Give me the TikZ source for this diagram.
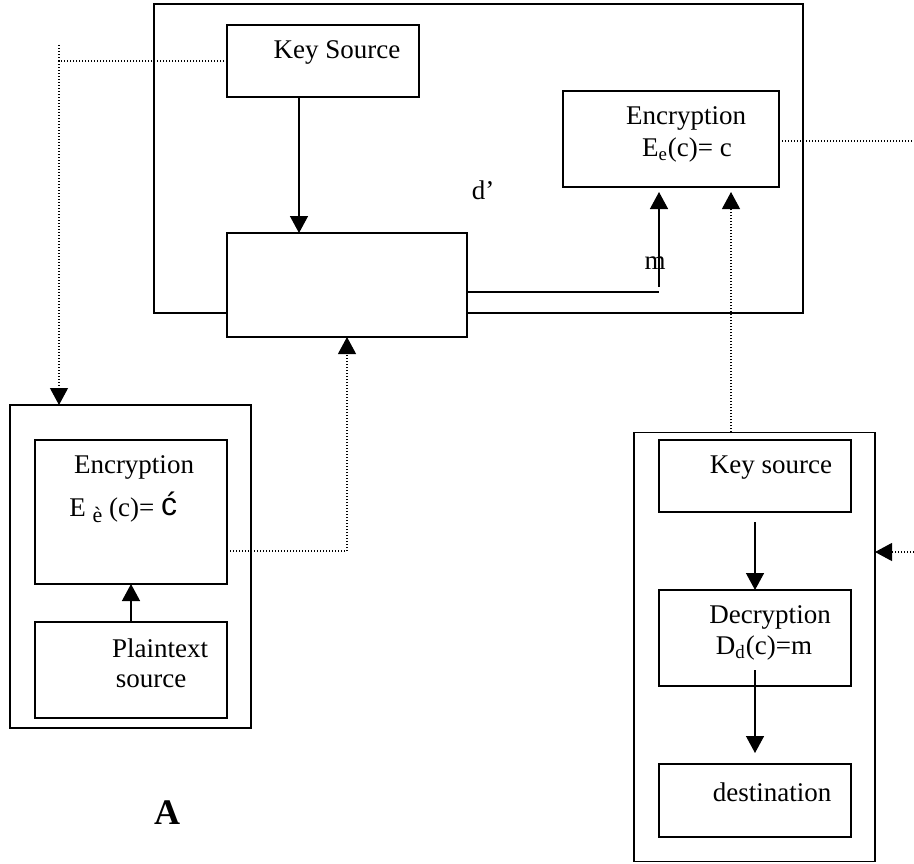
\documentclass[tikz,border=0pt]{standalone}
\usepackage{fontspec}
\setmainfont{Liberation Serif}
\newfontfamily\arialf{Liberation Sans}
\usetikzlibrary{arrows.meta,calc}
\begin{document}
\begin{tikzpicture}[x=0.5pt,y=-0.5pt,
  box/.style={draw,line width=0.7pt,inner sep=0pt,outer sep=0pt,fill=white},
  txt/.style={inner sep=0pt,font=\fontsize{13.5}{16}\selectfont},
  arr/.style={line width=0.7pt,-{Triangle[width=9pt,length=8.5pt]}},
  dots/.style={line width=0.55pt,dash pattern=on 0.5pt off 1pt},
  darr/.style={dots,-{Triangle[width=9pt,length=8.5pt]}}]
\useasboundingbox (0,0) rectangle (914,863);
% outer boxes
\node[box,fill=none,minimum width=324.5pt,minimum height=154.5pt] (outer) at (478.5,158.5) {};
\node[box,minimum width=120.5pt,minimum height=161.5pt] (louter) at (130.5,566.5) {};
\node[box,minimum width=120.5pt,minimum height=214.5pt] (router) at (754.5,646.75) {};
% inner boxes
\node[box,minimum width=96pt,minimum height=36pt] (keysrc) at (323,61) {};
\node[box,minimum width=120pt,minimum height=52pt] (mid) at (347,285) {};
\node[box,minimum width=108pt,minimum height=48pt] (encR) at (671,139) {};
\node[box,minimum width=96pt,minimum height=72pt] (encL) at (131,512) {};
\node[box,minimum width=96pt,minimum height=48pt] (plain) at (131,670) {};
\node[box,minimum width=96pt,minimum height=36pt] (keyR) at (755,476) {};
\node[box,minimum width=96pt,minimum height=48pt] (dec) at (755,638) {};
\node[box,minimum width=96pt,minimum height=36.5pt] (dest) at (755,800.5) {};
% texts
\node[txt] (tks) at (337,52) {Key Source};
\node[txt] (te1) at (686,118) {Encryption};
\node[txt] (te2) at (687,150) {E\textsubscript{e}(c)= c};
\node[txt] (td) at (483,190) {d’};
\node[txt] (tm) at (655,263) {m};
\node[txt] (tl1) at (134,467) {Encryption};
\node[txt,anchor=west] (tl2) at (69,507) {E \raisebox{-0.45ex}{\fontsize{11}{12}\selectfont è} (c)= \raisebox{0.1ex}{\arialf\fontsize{16}{18}\selectfont ć}};
\node[txt] (tp1) at (160,648) {Plaintext};
\node[txt] (tp2) at (151,681) {source};
\node[txt] (tkr) at (771,468) {Key source};
\node[txt] (tdc1) at (770,617) {Decryption};
\node[txt] (tdc2) at (764,648) {D\textsubscript{d}(c)=m};
\node[txt] (tds) at (772,792) {destination};
\node[inner sep=0pt,font=\fontsize{18}{20}\selectfont\bfseries] (tA) at (167,813) {A};
% helper coordinates
\coordinate (k1) at (299,0);
\coordinate (m1) at (659,292);
\coordinate (lx) at (59,45);
\coordinate (px) at (347,551);
\coordinate (rx) at (731,0);
\coordinate (re) at (914,141);
\coordinate (re2) at (914,552);
\coordinate (pl) at (131,0);
\coordinate (dx) at (755,0);
% solid connectors
\draw[arr] (keysrc.south -| k1) -- (mid.north -| k1);
\draw[line width=0.7pt] (mid.east |- m1) -- (m1);
\draw[arr,shorten >=2.5pt] ($(m1)+(0,-5)$) -- (encR.south -| m1);
\draw[arr] (plain.north -| pl) -- (encL.south -| pl);
\draw[arr,shorten <=5pt] (keyR.south -| dx) -- (dec.north -| dx);
\draw[arr,shorten >=5.5pt] ($(dec.south -| dx)+(0,-16)$) -- (dest.north -| dx);
% dotted connectors
\draw[darr] (keysrc.west) -- (keysrc.west -| lx) -- (louter.north -| lx);
\draw[dots] (lx) -- (keysrc.west -| lx);
\draw[darr] (encL.east |- px) -- (px) -- (mid.south -| px);
\draw[darr,shorten >=2.5pt] (router.north -| rx) -- (encR.south -| rx);
\draw[dots] (encR.east |- re) -- (re);
\draw[darr] (re2) -- (router.east |- re2);
\end{tikzpicture}
\end{document}
